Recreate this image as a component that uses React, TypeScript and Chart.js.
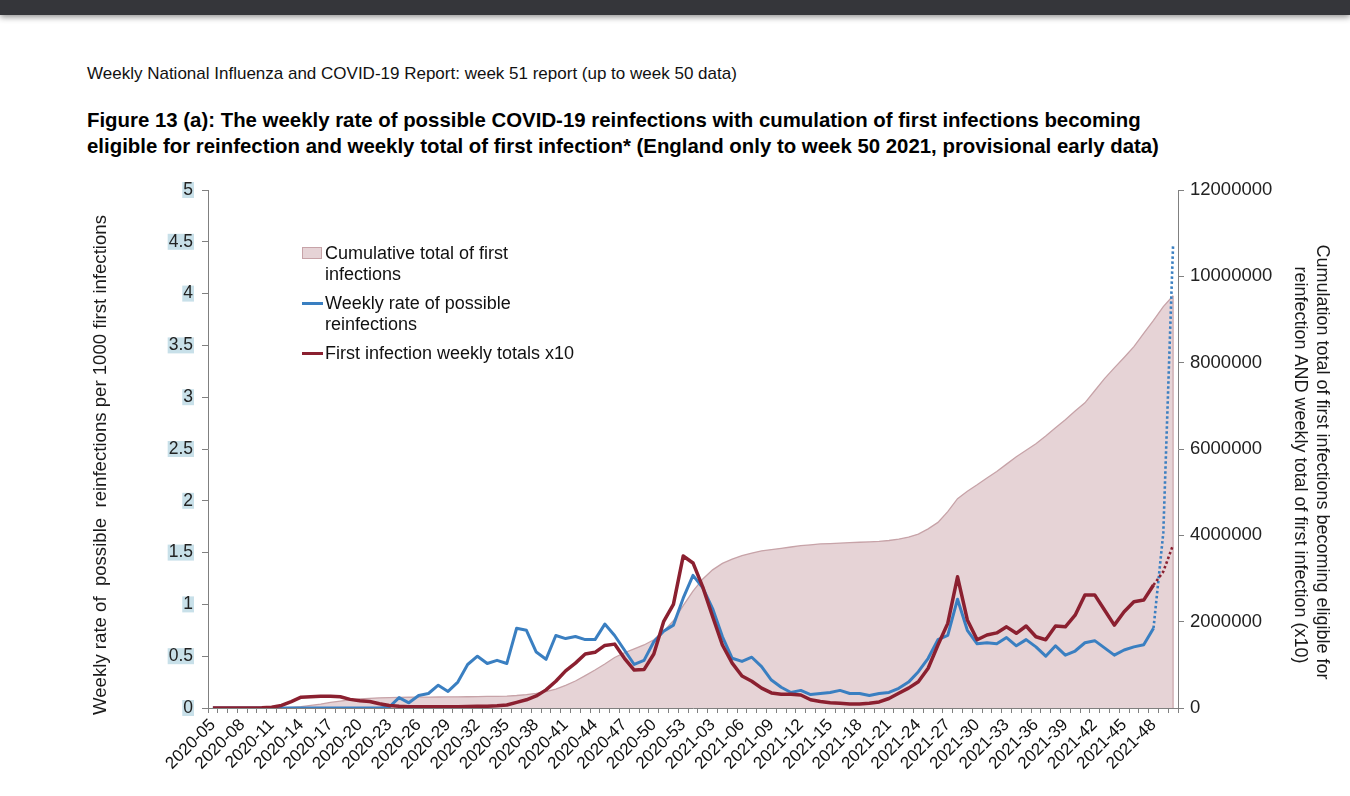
import React, { useEffect, useRef } from 'react';
import { Chart, registerables } from 'chart.js';

Chart.register(...registerables);

const weeks = [
  '2020-05', '2020-06', '2020-07', '2020-08', '2020-09', '2020-10', '2020-11', '2020-12', '2020-13', '2020-14',
  '2020-15', '2020-16', '2020-17', '2020-18', '2020-19', '2020-20', '2020-21', '2020-22', '2020-23', '2020-24',
  '2020-25', '2020-26', '2020-27', '2020-28', '2020-29', '2020-30', '2020-31', '2020-32', '2020-33', '2020-34',
  '2020-35', '2020-36', '2020-37', '2020-38', '2020-39', '2020-40', '2020-41', '2020-42', '2020-43', '2020-44',
  '2020-45', '2020-46', '2020-47', '2020-48', '2020-49', '2020-50', '2020-51', '2020-52', '2020-53',
  '2021-01', '2021-02', '2021-03', '2021-04', '2021-05', '2021-06', '2021-07', '2021-08', '2021-09', '2021-10',
  '2021-11', '2021-12', '2021-13', '2021-14', '2021-15', '2021-16', '2021-17', '2021-18', '2021-19', '2021-20',
  '2021-21', '2021-22', '2021-23', '2021-24', '2021-25', '2021-26', '2021-27', '2021-28', '2021-29', '2021-30',
  '2021-31', '2021-32', '2021-33', '2021-34', '2021-35', '2021-36', '2021-37', '2021-38', '2021-39', '2021-40',
  '2021-41', '2021-42', '2021-43', '2021-44', '2021-45', '2021-46', '2021-47', '2021-48', '2021-49', '2021-50',
];

// Cumulative total of first infections (right axis)
const cumulativeFirst = [
  0, 0, 0, 0, 0, 0, 1000, 5000, 15000, 30000,
  60000, 90000, 130000, 160000, 190000, 210000, 225000, 235000, 242000, 246000,
  249000, 251000, 253000, 255000, 257000, 259000, 261000, 264000, 267000, 271000,
  277000, 290000, 310000, 340000, 380000, 440000, 525000, 625000, 750000, 880000,
  1020000, 1170000, 1280000, 1370000, 1460000, 1580000, 1780000, 2020000, 2370000,
  2710000, 2990000, 3200000, 3350000, 3450000, 3530000, 3590000, 3640000, 3670000, 3700000,
  3730000, 3760000, 3780000, 3800000, 3810000, 3820000, 3830000, 3840000, 3850000, 3860000,
  3880000, 3910000, 3960000, 4030000, 4150000, 4300000, 4550000, 4850000, 5020000, 5170000,
  5330000, 5480000, 5650000, 5820000, 5970000, 6120000, 6300000, 6490000, 6680000, 6880000,
  7070000, 7350000, 7630000, 7880000, 8120000, 8370000, 8680000, 8980000, 9300000, 9550000,
];

// Weekly rate of possible reinfections (left axis)
const reinfectionRate = [
  0, 0, 0, 0, 0, 0, 0, 0, 0, 0,
  0, 0, 0, 0, 0, 0, 0, 0, 0.01, 0.1,
  0.05, 0.12, 0.14, 0.22, 0.16, 0.25, 0.42, 0.5, 0.43, 0.46,
  0.43, 0.77, 0.75, 0.54, 0.47, 0.7, 0.67, 0.69, 0.66, 0.66,
  0.81, 0.7, 0.56, 0.42, 0.46, 0.64, 0.74, 0.8, 1.06,
  1.28, 1.16, 0.96, 0.69, 0.48, 0.45, 0.49, 0.4, 0.27, 0.2,
  0.15, 0.17, 0.13, 0.14, 0.15, 0.17, 0.14, 0.14, 0.12, 0.14,
  0.15, 0.19, 0.25, 0.35, 0.48, 0.66, 0.7, 1.05, 0.75, 0.62,
  0.63, 0.62, 0.68, 0.6, 0.66, 0.59, 0.5, 0.6, 0.51, 0.55,
  0.63, 0.65, 0.58, 0.51, 0.56, 0.59, 0.61, 0.77, 1.69, 4.48,
];

// First infection weekly totals x10 (right axis)
const firstInfectionX10 = [
  0, 0, 0, 0, 0, 5000, 20000, 60000, 150000, 250000,
  260000, 270000, 270000, 260000, 200000, 170000, 150000, 100000, 60000, 40000,
  30000, 30000, 30000, 30000, 30000, 30000, 35000, 40000, 40000, 50000,
  70000, 130000, 190000, 280000, 420000, 620000, 860000, 1040000, 1250000, 1290000,
  1450000, 1480000, 1150000, 880000, 890000, 1250000, 2000000, 2400000, 3520000,
  3360000, 2800000, 2120000, 1460000, 1040000, 740000, 620000, 460000, 350000, 320000,
  320000, 300000, 190000, 150000, 120000, 110000, 90000, 90000, 110000, 140000,
  220000, 340000, 460000, 610000, 920000, 1460000, 1960000, 3040000, 2040000, 1580000,
  1690000, 1740000, 1880000, 1730000, 1900000, 1650000, 1580000, 1900000, 1880000, 2150000,
  2620000, 2620000, 2270000, 1920000, 2230000, 2460000, 2500000, 2850000, 3160000, 3780000,
];

const leftTickLabels = ['0', '0.5', '1', '1.5', '2', '2.5', '3', '3.5', '4', '4.5', '5'];
const rightTickLabels = ['0', '2000000', '4000000', '6000000', '8000000', '10000000', '12000000'];

const PROVISIONAL_FROM = 96;

const AREA_FILL = 'rgb(230, 211, 214)';
const AREA_LINE = 'rgb(199, 163, 168)';
const BLUE = 'rgb(58, 127, 193)';
const RED = 'rgb(139, 32, 48)';
const AXIS = 'rgb(128, 128, 128)';
const FONT = "'Liberation Sans', Arial, sans-serif";

const titlesPlugin = {
  id: 'axisTitles',
  afterDatasetDraw(chart: any, args: any) {
    if (args.index !== 0) return;
    const meta = chart.getDatasetMeta(0);
    const last = meta.data[meta.data.length - 1];
    if (!last) return;
    const ctx = chart.ctx;
    ctx.save();
    ctx.strokeStyle = AREA_LINE;
    ctx.lineWidth = 1.2;
    ctx.beginPath();
    ctx.moveTo(last.x, last.y);
    ctx.lineTo(last.x, chart.chartArea.bottom);
    ctx.stroke();
    ctx.restore();
  },
  afterDraw(chart: any) {
    const ctx = chart.ctx;
    ctx.save();
    ctx.fillStyle = '#1a1a1a';
    ctx.font = `18.6px ${FONT}`;
    ctx.textAlign = 'center';
    ctx.textBaseline = 'middle';
    ctx.translate(101, 465);
    ctx.rotate(-Math.PI / 2);
    ctx.fillText('Weekly rate of  possible  reinfections per 1000 first infections', 0, 0);
    ctx.restore();

    ctx.save();
    ctx.fillStyle = '#1a1a1a';
    ctx.font = `18px ${FONT}`;
    ctx.textAlign = 'center';
    ctx.textBaseline = 'middle';
    ctx.translate(1322, 462);
    ctx.rotate(Math.PI / 2);
    ctx.fillText('Cumulation total of first infections becoming eligible for', 0, 0);
    ctx.restore();

    ctx.save();
    ctx.fillStyle = '#1a1a1a';
    ctx.font = `18px ${FONT}`;
    ctx.textAlign = 'center';
    ctx.textBaseline = 'middle';
    ctx.translate(1300, 465);
    ctx.rotate(Math.PI / 2);
    ctx.fillText('reinfection AND weekly total of first infection (x10)', 0, 0);
    ctx.restore();
  },
};

function ChartCanvas() {
  const ref = useRef<HTMLCanvasElement | null>(null);
  useEffect(() => {
    if (!ref.current) return;
    const dotted = (c: any) => (c.p0DataIndex >= PROVISIONAL_FROM ? [2.5, 2.5] : undefined);
    const dottedWidth = (c: any) => (c.p0DataIndex >= PROVISIONAL_FROM ? 2.6 : undefined);
    const chart = new Chart(ref.current, {
      type: 'line',
      data: {
        labels: weeks,
        datasets: [
          {
            label: 'Cumulative total of first infections',
            data: cumulativeFirst,
            yAxisID: 'y1',
            fill: 'origin',
            backgroundColor: AREA_FILL,
            borderColor: AREA_LINE,
            borderWidth: 1.3,
            pointRadius: 0,
            tension: 0,
            order: 3,
          },
          {
            label: 'Weekly rate of possible reinfections',
            data: reinfectionRate,
            yAxisID: 'y',
            fill: false,
            borderColor: BLUE,
            borderWidth: 3,
            pointRadius: 0,
            tension: 0,
            borderJoinStyle: 'round',
            order: 2,
            segment: { borderDash: dotted, borderWidth: dottedWidth },
          },
          {
            label: 'First infection weekly totals x10',
            data: firstInfectionX10,
            yAxisID: 'y1',
            fill: false,
            borderColor: RED,
            borderWidth: 3.5,
            pointRadius: 0,
            tension: 0,
            borderJoinStyle: 'round',
            order: 1,
            segment: { borderDash: dotted, borderWidth: dottedWidth },
          },
        ],
      },
      options: {
        responsive: false,
        animation: false,
        devicePixelRatio: 1,
        layout: { padding: { top: 190, left: 0, right: 0, bottom: 0 } },
        plugins: {
          legend: { display: false },
          tooltip: { enabled: false },
          title: { display: false },
        },
        scales: {
          x: {
            type: 'category',
            offset: true,
            afterFit: (s: any) => { s.height = 88; },
            grid: {
              offset: true,
              drawOnChartArea: false,
              drawTicks: true,
              tickLength: 5,
              color: AXIS,
            },
            border: { display: true, color: AXIS, width: 1 },
            ticks: {
              autoSkip: false,
              maxRotation: 45,
              minRotation: 45,
              padding: 2,
              color: '#111',
              font: { family: FONT, size: 17 },
              callback: (_v: any, i: number) => (i % 3 === 0 ? weeks[i] : ''),
            },
          },
          y: {
            position: 'left',
            min: 0,
            max: 5,
            afterFit: (s: any) => { s.width = 208; },
            afterBuildTicks: (s: any) => {
              s.ticks = leftTickLabels.map((t) => ({ value: parseFloat(t) }));
            },
            grid: { drawOnChartArea: false, tickLength: 6, color: AXIS },
            border: { display: true, color: AXIS, width: 1 },
            ticks: {
              padding: 9,
              color: '#222',
              font: { family: FONT, size: 17.5, lineHeight: 0.8 },
              showLabelBackdrop: true,
              backdropColor: 'rgb(200, 224, 233)',
              backdropPadding: { top: 1, bottom: 1, left: 1, right: 1 },
              callback: (v: any) => leftTickLabels[Math.round(Number(v) * 2)] ?? '',
            },
          },
          y1: {
            position: 'right',
            min: 0,
            max: 12000000,
            afterFit: (s: any) => { s.width = 172; },
            afterBuildTicks: (s: any) => {
              s.ticks = rightTickLabels.map((t) => ({ value: Number(t) }));
            },
            grid: { drawOnChartArea: false, tickLength: 6, color: AXIS },
            border: { display: true, color: AXIS, width: 1 },
            ticks: {
              padding: 6,
              color: '#222',
              font: { family: FONT, size: 18.5 },
              callback: (v: any) => rightTickLabels[Math.round(Number(v) / 2000000)] ?? '',
            },
          },
        },
      },
      plugins: [titlesPlugin],
    } as any);
    return () => chart.destroy();
  }, []);
  return (
    <canvas
      ref={ref}
      width={1350}
      height={796}
      style={{ position: 'absolute', left: 0, top: 0, width: 1350, height: 796 }}
    />
  );
}

const legendText: React.CSSProperties = {
  position: 'absolute',
  left: 325,
  fontFamily: FONT,
  fontSize: 18,
  lineHeight: '21px',
  color: '#111',
  whiteSpace: 'nowrap',
};

export default function App() {
  return (
    <div
      style={{
        position: 'absolute',
        left: 0,
        top: 0,
        width: 1350,
        height: 796,
        background: '#ffffff',
        overflow: 'hidden',
      }}
    >
      <div
        style={{
          position: 'absolute',
          left: 0,
          top: 0,
          width: 1350,
          height: 15,
          background: 'rgb(53, 54, 58)',
          boxShadow: '0 2px 6px rgba(0,0,0,0.45)',
        }}
      />
      <div
        style={{
          position: 'absolute',
          left: 87,
          top: 64,
          fontFamily: FONT,
          fontSize: 17,
          lineHeight: '20px',
          color: '#111',
          whiteSpace: 'nowrap',
        }}
      >
        Weekly National Influenza and COVID-19 Report: week 51 report (up to week 50 data)
      </div>
      <div
        style={{
          position: 'absolute',
          left: 87,
          top: 107,
          fontFamily: FONT,
          fontSize: 20.4,
          fontWeight: 'bold',
          lineHeight: '26px',
          color: '#000',
          whiteSpace: 'nowrap',
        }}
      >
        <div>Figure 13 (a): The weekly rate of possible COVID-19 reinfections with cumulation of first infections becoming</div>
        <div>eligible for reinfection and weekly total of first infection* (England only to week 50 2021, provisional early data)</div>
      </div>
      <ChartCanvas />
      <div
        style={{
          position: 'absolute',
          left: 302,
          top: 247,
          width: 20,
          height: 12,
          background: AREA_FILL,
          border: `1px solid ${AREA_LINE}`,
          boxSizing: 'border-box',
        }}
      />
      <div style={{ ...legendText, top: 243 }}>
        Cumulative total of first
        <br />
        infections
      </div>
      <div style={{ position: 'absolute', left: 302, top: 302, width: 21, height: 3, background: BLUE }} />
      <div style={{ ...legendText, top: 293 }}>
        Weekly rate of possible
        <br />
        reinfections
      </div>
      <div style={{ position: 'absolute', left: 302, top: 352, width: 21, height: 3, background: RED }} />
      <div style={{ ...legendText, top: 343 }}>First infection weekly totals x10</div>
    </div>
  );
}
